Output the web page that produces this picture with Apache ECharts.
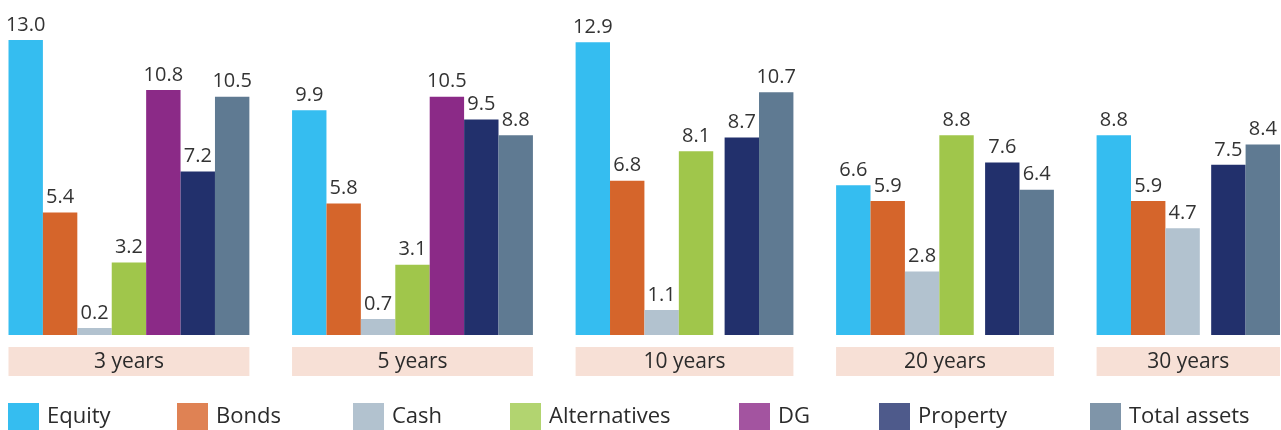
<!DOCTYPE html>
<html>
<head>
<meta charset="utf-8">
<script src="https://cdn.jsdelivr.net/npm/echarts@6/dist/echarts.min.js"></script>
<style>
  html, body { margin: 0; padding: 0; background: #fff; }
  #chart { width: 1281px; height: 430px; }
</style>
</head>
<body>
<div id="chart"></div>
<script>
// 数据
const categories = ['3 years', '5 years', '10 years', '20 years', '30 years']
const seriesNames = ['Equity', 'Bonds', 'Cash', 'Alternatives', 'DG', 'Property', 'Total assets']
const equity = [13.0, 9.9, 12.9, 6.6, 8.8]
const bonds = [5.4, 5.8, 6.8, 5.9, 5.9]
const cash = [0.2, 0.7, 1.1, 2.8, 4.7]
const alternatives = [3.2, 3.1, 8.1, 8.8, null]
const dg = [10.8, 10.5, null, null, null]
const property = [7.2, 9.5, 8.7, 7.6, 7.5]
const totalAssets = [10.5, 8.8, 10.7, 6.4, 8.4]

const seriesValues = [equity, bonds, cash, alternatives, dg, property, totalAssets]
const barColors = ['#35BDF0', '#D5652B', '#B2C2CF', '#A0C64B', '#8B2A87', '#22306C', '#5F7A92']
const legendColors = ['#35BDF0', '#DF8254', '#B2C2CF', '#B2D470', '#A354A0', '#4E5A8B', '#7F95A9']
const legendLeft = [8, 177, 353, 510, 739, 879, 1090]

const FONT = "'Open Sans', 'Noto Sans', sans-serif"
const INNER_GAP = 0.33 // 缺失系列处的小间隔(以柱宽为单位)
const GROUP_GAP = 1.24

// 计算每根柱子在 x 轴上的位置
let cursor = 0
const groups = []
const barData = seriesNames.map(() => [])
categories.forEach((cat, g) => {
  const start = cursor
  let inGap = false
  seriesValues.forEach((arr, s) => {
    const v = arr[g]
    if (v == null) {
      if (!inGap && s > 0) cursor += INNER_GAP
      inGap = true
      return
    }
    inGap = false
    barData[s].push([cursor + 0.5, v])
    cursor += 1
  })
  groups.push([start, cursor])
  cursor += GROUP_GAP
})
const xMax = cursor - GROUP_GAP

const myChart = echarts.init(document.getElementById('chart'))

const barSeries = seriesNames.map((name, i) => ({
  name: name,
  type: 'bar',
  data: barData[i],
  barWidth: 34.4,
  barGap: '-100%',
  barMinHeight: 7,
  itemStyle: { color: barColors[i] },
  label: {
    show: true,
    position: 'top',
    distance: 5,
    fontSize: 20,
    fontFamily: FONT,
    color: '#333',
    formatter: p => p.value[1].toFixed(1)
  }
}))

const groupSeries = {
  name: 'groups',
  type: 'custom',
  silent: true,
  clip: false,
  data: groups.map(g => [g[0], g[1]]),
  renderItem(params, api) {
    const g = groups[params.dataIndex]
    const p0 = api.coord([g[0], 0])
    const p1 = api.coord([g[1], 0])
    return {
      type: 'group',
      children: [
        {
          type: 'rect',
          shape: { x: p0[0], y: p0[1] + 12, width: p1[0] - p0[0], height: 29 },
          style: { fill: '#F7E0D6' }
        },
        {
          type: 'text',
          style: {
            text: categories[params.dataIndex],
            x: (p0[0] + p1[0]) / 2,
            y: p0[1] + 27,
            align: 'center',
            verticalAlign: 'middle',
            fontSize: 21,
            fontFamily: FONT,
            fill: '#2b2b2b'
          }
        }
      ]
    }
  }
}

const option = {
  animation: false,
  backgroundColor: '#fff',
  grid: { left: 8.5, right: 1, top: 40, bottom: 95 },
  xAxis: {
    type: 'value',
    min: 0,
    max: xMax,
    show: false,
    splitLine: { show: false }
  },
  yAxis: {
    type: 'value',
    min: 0,
    max: 13,
    show: false,
    splitLine: { show: false }
  },
  legend: seriesNames.map((name, i) => ({
    left: legendLeft[i],
    top: 403,
    padding: 0,
    icon: 'rect',
    itemWidth: 31,
    itemHeight: 27,
    selectedMode: false,
    textStyle: { fontSize: 22, fontFamily: FONT, color: '#2b2b2b', padding: [0, 0, 0, 3] },
    data: [{ name: name, itemStyle: { color: legendColors[i] } }]
  })),
  series: [...barSeries, groupSeries]
}
myChart.setOption(option)
</script>
</body>
</html>
